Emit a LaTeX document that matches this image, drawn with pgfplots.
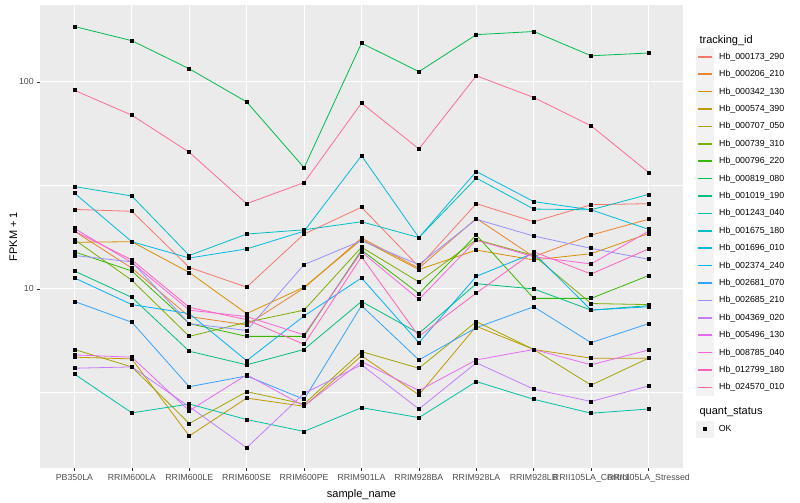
\documentclass[border=0pt]{standalone}
\usepackage{fontspec}
\setmainfont{Liberation Sans}
\usepackage{pgfplots}
\pgfplotsset{compat=1.18}

\definecolor{c01}{HTML}{F8766D}
\definecolor{c02}{HTML}{EA8331}
\definecolor{c03}{HTML}{D89000}
\definecolor{c04}{HTML}{C09B00}
\definecolor{c05}{HTML}{A3A500}
\definecolor{c06}{HTML}{7CAE00}
\definecolor{c07}{HTML}{39B600}
\definecolor{c08}{HTML}{00BB4E}
\definecolor{c09}{HTML}{00BF7D}
\definecolor{c10}{HTML}{00C1A3}
\definecolor{c11}{HTML}{00BFC4}
\definecolor{c12}{HTML}{00BAE0}
\definecolor{c13}{HTML}{00B0F6}
\definecolor{c14}{HTML}{35A2FF}
\definecolor{c15}{HTML}{9590FF}
\definecolor{c16}{HTML}{C77CFF}
\definecolor{c17}{HTML}{E76BF3}
\definecolor{c18}{HTML}{FA62DB}
\definecolor{c19}{HTML}{FF62BC}
\definecolor{c20}{HTML}{FF6C91}
\definecolor{panel}{HTML}{EBEBEB}
\definecolor{legkey}{HTML}{F2F2F2}
\definecolor{ticktext}{HTML}{4D4D4D}
\definecolor{tickline}{HTML}{333333}

\pgfplotsset{
  ggbox/.style={
    at={(40pt,32pt)}, anchor=south west, scale only axis,
    width=643pt, height=463pt,
  },
}

\begin{document}
\begin{tikzpicture}[x=1pt,y=1pt]
\path (0,0) rectangle (800,500);

\begin{axis}[
  ggbox,
  set layers, mark layer=axis foreground,
  xmin=-0.6, xmax=10.6,
  ymode=log, ymin=1.365, ymax=235,
  xtick={0,...,10},
  xticklabels={PB350LA,RRIM600LA,RRIM600LE,RRIM600SE,RRIM600PE,RRIM901LA,RRIM928BA,RRIM928LA,RRIM928LB,RRII105LA\_Control,RRII105LA\_Stressed},
  ytick={10,100}, yticklabels={10,100},
  minor ytick={3.1623,31.623},
  xtick pos=bottom, ytick pos=left,
  grid=both,
  major grid style={white, line width=1pt},
  minor grid style={white, line width=0.5pt},
  axis line style={draw=none},
  axis background/.style={fill=panel},
  tick align=outside, major tick length=2.75pt, minor tick length=0pt,
  tick style={tickline, line width=0.5pt},
  ticklabel style={font=\fontsize{8.8}{10}\selectfont, text=ticktext},
  /pgf/number format/assume math mode=true,
  xlabel={sample\_name}, ylabel={FPKM + 1},
  label style={font=\fontsize{11}{13}\selectfont},
  ylabel style={yshift=-5pt},
  every axis plot/.append style={line width=0.8pt, mark=square*, mark size=1.5pt,
    mark options={draw=black, fill=black, solid}},
  legend style={at={(1.0202,0.907)}, anchor=north west, draw=none, fill=none,
    font=\fontsize{8.8}{10}\selectfont, row sep=0.3pt, inner sep=0pt,
    /tikz/every odd column/.append style={column sep=3.7pt}},
  legend cell align=left,
  legend image code/.code={
    \fill[legkey] (0pt,-8.15pt) rectangle (16.5pt,8.15pt);
    \fill[#1, draw=none] (1.5pt,-0.8pt) rectangle (15pt,0.8pt);
  },
]
\addplot[color=c01] coordinates {(0,24.2) (1,23.7) (2,12.7) (3,10.2) (4,18.4) (5,24.8) (6,12.8) (7,25.8) (8,21.1) (9,25.5) (10,25.8)};
\addlegendentry{Hb\_000173\_290}
\addplot[color=c02] coordinates {(0,19.0) (1,12.6) (2,7.35) (3,6.7) (4,10.1) (5,17.6) (6,12.6) (7,21.9) (8,14.3) (9,18.2) (10,21.7)};
\addlegendentry{Hb\_000206\_210}
\addplot[color=c03] coordinates {(0,16.8) (1,16.9) (2,12.0) (3,7.6) (4,10.2) (5,17.3) (6,12.4) (7,15.4) (8,13.8) (9,14.8) (10,18.5)};
\addlegendentry{Hb\_000342\_130}
\addplot[color=c04] coordinates {(0,4.68) (1,4.59) (2,1.95) (3,2.97) (4,2.71) (5,4.75) (6,3.08) (7,6.6) (8,5.1) (9,4.63) (10,4.63)};
\addlegendentry{Hb\_000574\_390}
\addplot[color=c05] coordinates {(0,5.1) (1,4.2) (2,2.24) (3,3.19) (4,2.78) (5,4.98) (6,4.14) (7,6.95) (8,5.1) (9,3.43) (10,4.63)};
\addlegendentry{Hb\_000707\_050}
\addplot[color=c06] coordinates {(0,17.3) (1,11.0) (2,5.9) (3,6.9) (4,7.9) (5,15.9) (6,10.8) (7,17.3) (8,14.5) (9,8.5) (10,8.4)};
\addlegendentry{Hb\_000739\_310}
\addplot[color=c07] coordinates {(0,15.1) (1,12.2) (2,6.8) (3,5.9) (4,5.9) (5,15.4) (6,9.5) (7,18.2) (8,9.0) (9,9.0) (10,11.6)};
\addlegendentry{Hb\_000796\_220}
\addplot[color=c08] coordinates {(0,185) (1,158) (2,115.6) (3,80) (4,38.5) (5,153.8) (6,112) (7,169) (8,175) (9,133.6) (10,137.8)};
\addlegendentry{Hb\_000819\_080}
\addplot[color=c09] coordinates {(0,12.2) (1,9.1) (2,5.0) (3,4.3) (4,5.1) (5,8.7) (6,6.1) (7,10.6) (8,10.0) (9,7.9) (10,8.3)};
\addlegendentry{Hb\_001019\_190}
\addplot[color=c10] coordinates {(0,3.88) (1,2.52) (2,2.78) (3,2.34) (4,2.05) (5,2.67) (6,2.39) (7,3.57) (8,2.93) (9,2.51) (10,2.63)};
\addlegendentry{Hb\_001243\_040}
\addplot[color=c11] coordinates {(0,31.2) (1,28.1) (2,14.5) (3,18.4) (4,19.3) (5,21.1) (6,17.7) (7,34.3) (8,24.3) (9,24.1) (10,28.6)};
\addlegendentry{Hb\_001675\_180}
\addplot[color=c12] coordinates {(0,29.0) (1,16.9) (2,14.1) (3,15.6) (4,19.0) (5,44.0) (6,17.7) (7,36.9) (8,26.4) (9,24.1) (10,19.4)};
\addlegendentry{Hb\_001696\_010}
\addplot[color=c13] coordinates {(0,11.3) (1,8.4) (2,7.6) (3,4.5) (4,7.4) (5,11.3) (6,5.5) (7,11.5) (8,14.9) (9,7.9) (10,8.2)};
\addlegendentry{Hb\_002374\_240}
\addplot[color=c14] coordinates {(0,8.7) (1,6.9) (2,3.37) (3,3.8) (4,2.93) (5,8.3) (6,4.54) (7,6.5) (8,8.2) (9,5.5) (10,6.8)};
\addlegendentry{Hb\_002681\_070}
\addplot[color=c15] coordinates {(0,14.5) (1,13.5) (2,6.8) (3,6.3) (4,13.1) (5,17.1) (6,13.1) (7,21.7) (8,18.0) (9,15.7) (10,13.9)};
\addlegendentry{Hb\_002685\_210}
\addplot[color=c16] coordinates {(0,4.14) (1,4.2) (2,2.7) (3,1.71) (4,3.13) (5,4.3) (6,2.63) (7,4.4) (8,3.28) (9,2.86) (10,3.4)};
\addlegendentry{Hb\_004369\_020}
\addplot[color=c17] coordinates {(0,4.8) (1,4.68) (2,2.58) (3,3.85) (4,2.72) (5,4.46) (6,3.23) (7,4.54) (8,5.1) (9,4.3) (10,5.07)};
\addlegendentry{Hb\_005496\_130}
\addplot[color=c18] coordinates {(0,19.6) (1,13.4) (2,7.9) (3,7.35) (4,6.0) (5,15.1) (6,8.9) (7,17.2) (8,14.3) (9,13.2) (10,19.0)};
\addlegendentry{Hb\_008785\_040}
\addplot[color=c19] coordinates {(0,19.0) (1,13.8) (2,8.15) (3,7.1) (4,5.4) (5,14.3) (6,5.9) (7,9.55) (8,15.1) (9,11.8) (10,15.6)};
\addlegendentry{Hb\_012799\_180}
\addplot[color=c20] coordinates {(0,91) (1,69) (2,45.7) (3,25.8) (4,32.6) (5,79) (6,47.4) (7,107) (8,84) (9,61.3) (10,36.5)};
\addlegendentry{Hb\_024570\_010}
\end{axis}

\begin{axis}[
  ggbox, hide axis, xmin=0, xmax=1, ymin=0, ymax=1,
  legend style={at={(1.0202,0.1029)}, anchor=north west, draw=none, fill=none,
    font=\fontsize{8.8}{10}\selectfont, inner sep=0pt,
    /tikz/every odd column/.append style={column sep=3.7pt}},
  legend cell align=left,
  legend image code/.code={
    \fill[legkey] (0pt,-8.15pt) rectangle (16.5pt,8.15pt);
    \fill[black] (6.75pt,-1.5pt) rectangle (9.75pt,1.5pt);
  },
]
\addplot[draw=none, forget plot] coordinates {(0,0) (1,1)};
\addlegendimage{black}
\addlegendentry{OK}
\end{axis}

\node[anchor=west, font=\fontsize{11}{13}\selectfont] at (696,459.3) {tracking\_id};
\node[anchor=west, font=\fontsize{11}{13}\selectfont] at (696,88.3) {quant\_status};
\end{tikzpicture}
\end{document}
